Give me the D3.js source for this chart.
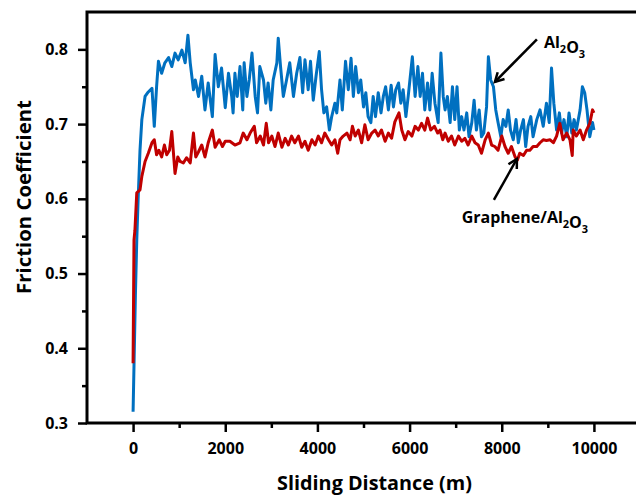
<!DOCTYPE html>
<html>
<head>
<meta charset="utf-8">
<script src="https://cdn.jsdelivr.net/npm/d3@7"></script>
<style>
  html, body { margin: 0; padding: 0; background: #fff; overflow: hidden; }
  svg { display: block; font-family: "Open Sans", "DejaVu Sans", sans-serif; font-weight: bold; }
</style>
</head>
<body>
<div id="chart"></div>
<script>
// CONSTANTS
const WIDTH = 636;
const HEIGHT = 496;

// data: sliding distance (m) and friction coefficient
const al2o3Dist = [0, 50, 80, 110, 150, 190, 260, 330, 410, 460, 510, 550, 620, 690, 770, 840, 910, 980, 1060, 1130,
  1190, 1240, 1310, 1350, 1420, 1490, 1560, 1630, 1720, 1780, 1850, 1920, 2000, 2070, 2140, 2170, 2210, 2260, 2320, 2380,
  2410, 2470, 2520, 2580, 2650, 2700, 2750, 2830, 2880, 2930, 2990, 3040, 3120, 3150, 3200, 3260, 3330, 3400, 3480, 3550,
  3620, 3680, 3730, 3800, 3850, 3910, 3970, 4040, 4090, 4140, 4200, 4260, 4310, 4380, 4420, 4490, 4540, 4610, 4670, 4730,
  4780, 4830, 4890, 4940, 5000, 5050, 5100, 5160, 5210, 5260, 5320, 5380, 5430, 5480, 5540, 5600, 5650, 5700, 5760, 5810,
  5860, 5920, 5970, 6060, 6120, 6180, 6230, 6280, 6330, 6390, 6440, 6490, 6550, 6620, 6680, 6730, 6770, 6820, 6880, 6930,
  6980, 7030, 7080, 7130, 7180, 7240, 7290, 7350, 7400, 7450, 7510, 7560, 7610, 7670, 7710, 7760, 7820, 7870, 7920, 7980,
  8030, 8090, 8140, 8190, 8250, 8310, 8360, 8410, 8470, 8520, 8570, 8630, 8680, 8760, 8830, 8900, 8970, 9030, 9080, 9130,
  9190, 9250, 9300, 9350, 9410, 9460, 9520, 9570, 9620, 9700, 9750, 9800, 9850, 9910, 9970, 10000];
const al2o3Cof = [0.315, 0.47, 0.545, 0.60, 0.665, 0.706, 0.737, 0.743, 0.748, 0.697, 0.75, 0.784, 0.768, 0.782, 0.789, 0.777, 0.795, 0.786, 0.799, 0.782,
  0.819, 0.782, 0.746, 0.759, 0.737, 0.764, 0.719, 0.755, 0.71, 0.793, 0.75, 0.775, 0.722, 0.768, 0.737, 0.715, 0.768, 0.737, 0.777, 0.719,
  0.782, 0.737, 0.759, 0.795, 0.737, 0.715, 0.777, 0.759, 0.728, 0.755, 0.719, 0.759, 0.782, 0.815, 0.777, 0.737, 0.759, 0.782, 0.737, 0.768,
  0.789, 0.742, 0.786, 0.746, 0.784, 0.732, 0.764, 0.797, 0.746, 0.715, 0.723, 0.692, 0.71, 0.728, 0.715, 0.759, 0.719, 0.784, 0.746, 0.788,
  0.737, 0.777, 0.742, 0.759, 0.723, 0.742, 0.71, 0.702, 0.737, 0.71, 0.742, 0.715, 0.737, 0.75, 0.719, 0.752, 0.723, 0.746, 0.755, 0.728,
  0.746, 0.71, 0.737, 0.79, 0.737, 0.777, 0.737, 0.768, 0.719, 0.755, 0.719, 0.768, 0.728, 0.702, 0.795, 0.737, 0.719, 0.737, 0.702, 0.75,
  0.706, 0.75, 0.692, 0.71, 0.692, 0.715, 0.683, 0.702, 0.732, 0.692, 0.719, 0.683, 0.688, 0.723, 0.79, 0.759, 0.75, 0.719, 0.702, 0.683,
  0.706, 0.697, 0.719, 0.692, 0.679, 0.706, 0.675, 0.692, 0.706, 0.67, 0.697, 0.71, 0.683, 0.706, 0.719, 0.697, 0.728, 0.702, 0.775, 0.728,
  0.692, 0.715, 0.688, 0.706, 0.683, 0.715, 0.688, 0.706, 0.692, 0.719, 0.75, 0.742, 0.719, 0.683, 0.702, 0.692];

const grapheneDist = [0, 20, 40, 80, 150, 190, 260, 330, 410, 460, 510, 560, 620, 680, 730, 790, 840, 910, 970, 1020,
  1090, 1160, 1240, 1310, 1360, 1420, 1490, 1560, 1630, 1720, 1780, 1870, 1940, 2000, 2100, 2210, 2320, 2390, 2470, 2540,
  2630, 2680, 2760, 2830, 2890, 2940, 3010, 3080, 3150, 3230, 3300, 3370, 3440, 3510, 3590, 3660, 3730, 3800, 3880, 3950,
  4020, 4090, 4160, 4240, 4310, 4380, 4440, 4490, 4560, 4640, 4710, 4760, 4820, 4890, 4960, 5030, 5100, 5180, 5250, 5320,
  5390, 5470, 5540, 5610, 5680, 5770, 5830, 5900, 5970, 6050, 6120, 6190, 6260, 6330, 6390, 6460, 6540, 6610, 6660, 6720,
  6770, 6840, 6910, 6980, 7060, 7130, 7200, 7270, 7350, 7420, 7490, 7560, 7640, 7710, 7780, 7850, 7920, 8000, 8070, 8140,
  8210, 8290, 8340, 8390, 8470, 8540, 8610, 8680, 8760, 8830, 8900, 8970, 9050, 9120, 9190, 9260, 9330, 9410, 9480, 9530,
  9550, 9620, 9700, 9770, 9840, 9910, 9970, 10000];
const grapheneCof = [0.38, 0.545, 0.558, 0.608, 0.612, 0.63, 0.65, 0.661, 0.675, 0.679, 0.659, 0.665, 0.656, 0.672, 0.659, 0.665, 0.69, 0.634, 0.656, 0.65,
  0.648, 0.655, 0.648, 0.688, 0.656, 0.663, 0.672, 0.656, 0.675, 0.692, 0.669, 0.679, 0.67, 0.677, 0.677, 0.672, 0.675, 0.688, 0.679, 0.688,
  0.697, 0.675, 0.684, 0.672, 0.701, 0.675, 0.684, 0.67, 0.688, 0.669, 0.681, 0.672, 0.684, 0.675, 0.684, 0.669, 0.677, 0.665, 0.679, 0.672,
  0.684, 0.675, 0.688, 0.679, 0.672, 0.679, 0.661, 0.679, 0.684, 0.688, 0.679, 0.697, 0.684, 0.692, 0.675, 0.699, 0.679, 0.688, 0.692, 0.684,
  0.692, 0.677, 0.688, 0.681, 0.703, 0.715, 0.692, 0.679, 0.69, 0.684, 0.697, 0.692, 0.701, 0.692, 0.708, 0.692, 0.697, 0.688, 0.692, 0.679,
  0.688, 0.677, 0.684, 0.672, 0.684, 0.677, 0.681, 0.672, 0.684, 0.675, 0.672, 0.661, 0.679, 0.688, 0.672, 0.67, 0.665, 0.684, 0.67, 0.661,
  0.67, 0.656, 0.652, 0.661, 0.658, 0.665, 0.665, 0.67, 0.67, 0.675, 0.679, 0.678, 0.679, 0.675, 0.684, 0.701, 0.679, 0.688, 0.679, 0.658,
  0.692, 0.684, 0.692, 0.679, 0.692, 0.701, 0.719, 0.715];

const xMajorTicks = [0, 2000, 4000, 6000, 8000, 10000];
const xMinorTicks = [1000, 3000, 5000, 7000, 9000];
const yMajorTicks = [0.3, 0.4, 0.5, 0.6, 0.7, 0.8];
const yMinorTicks = [0.35, 0.45, 0.55, 0.65, 0.75];

// annotation anchors in data units: label position, arrow tail, arrow tip
const annotations = [
  { name: "Al2O3", parts: [["Al", false], ["2", true], ["O", false], ["3", true]], lx: 8915, ly: 0.802, anchor: "start",
    tail: [8763, 0.8134], tip: [7852, 0.7565] },
  { name: "Graphene/Al2O3", parts: [["Graphene/Al", false], ["2", true], ["O", false], ["3", true]], lx: 8503, ly: 0.5677, anchor: "middle",
    tail: [7830, 0.5985], tip: [8329, 0.6534] }
];

const margin = { top: 12, left: 87, bottom: 423, right: 640 };

const svg = d3.select("#chart")
  .append("svg")
  .attr("width", WIDTH)
  .attr("height", HEIGHT);

const x = d3.scaleLinear().domain([-1000, 11000]).range([margin.left, margin.right]);
const y = d3.scaleLinear().domain([0.3, 0.85]).range([margin.bottom, margin.top]);

// ticks
const xAxis = svg.append("g")
  .attr("transform", `translate(0,${margin.bottom})`)
  .call(d3.axisBottom(x).tickValues(xMajorTicks).tickSize(9).tickPadding(11).tickFormat(d3.format("d")));
const xMinor = svg.append("g")
  .attr("transform", `translate(0,${margin.bottom})`)
  .call(d3.axisBottom(x).tickValues(xMinorTicks).tickSize(5).tickFormat(""));
const yAxis = svg.append("g")
  .attr("transform", `translate(${margin.left},0)`)
  .call(d3.axisLeft(y).tickValues(yMajorTicks).tickSize(9).tickPadding(10).tickFormat(d3.format(".1f")));
const yMinor = svg.append("g")
  .attr("transform", `translate(${margin.left},0)`)
  .call(d3.axisLeft(y).tickValues(yMinorTicks).tickSize(5).tickFormat(""));

[xAxis, xMinor, yAxis, yMinor].forEach(g => {
  g.select(".domain").remove();
  g.selectAll(".tick line").attr("stroke", "#000").attr("stroke-width", 2.5);
  g.selectAll("text")
    .attr("fill", "#000")
    .style("font-family", "'Open Sans', sans-serif")
    .style("font-weight", "bold")
    .style("font-size", "16px");
});

// frame
svg.append("rect")
  .attr("x", margin.left)
  .attr("y", margin.top)
  .attr("width", margin.right - margin.left)
  .attr("height", margin.bottom - margin.top)
  .attr("fill", "none")
  .attr("stroke", "#000")
  .attr("stroke-width", 3);

// lines
const line = d3.line().x(d => x(d[0])).y(d => y(d[1]));
const al2o3 = al2o3Dist.map((d, i) => [d, al2o3Cof[i]]);
const graphene = grapheneDist.map((d, i) => [d, grapheneCof[i]]);

svg.append("path")
  .datum(al2o3)
  .attr("d", line)
  .attr("fill", "none")
  .attr("stroke", "#0070C0")
  .attr("stroke-width", 3)
  .attr("stroke-linejoin", "round");

svg.append("path")
  .datum(graphene)
  .attr("d", line)
  .attr("fill", "none")
  .attr("stroke", "#C00000")
  .attr("stroke-width", 3)
  .attr("stroke-linejoin", "round");

// axis titles
const fitText = (sel, target) => {
  const w = sel.node().getComputedTextLength();
  const fs = parseFloat(sel.style("font-size"));
  sel.style("font-size", (fs * target / w) + "px");
};

const xTitle = svg.append("text")
  .attr("x", 374.5)
  .attr("y", 490)
  .attr("text-anchor", "middle")
  .style("font-size", "21px")
  .text("Sliding Distance (m)");
fitText(xTitle, 195);

const yTitle = svg.append("text")
  .attr("transform", "translate(31,197) rotate(-90)")
  .attr("text-anchor", "middle")
  .style("font-size", "21px")
  .text("Friction Coefficient");
fitText(yTitle, 194);

// annotations
annotations.forEach(a => {
  const t = svg.append("text")
    .attr("x", x(a.lx))
    .attr("y", y(a.ly))
    .attr("text-anchor", a.anchor)
    .style("font-size", "16px");
  a.parts.forEach(([s, sub]) => {
    t.append("tspan")
      .attr("dy", sub ? 5 : 0)
      .style("font-size", sub ? "11px" : "16px")
      .text(s);
    if (sub) t.append("tspan").attr("dy", -5).text("");
  });

  const x0 = x(a.tail[0]), y0 = y(a.tail[1]);
  const x1 = x(a.tip[0]), y1 = y(a.tip[1]);
  const ang = Math.atan2(y1 - y0, x1 - x0);
  const hl = 10, ha = 0.5;
  svg.append("line")
    .attr("x1", x0).attr("y1", y0).attr("x2", x1).attr("y2", y1)
    .attr("stroke", "#000").attr("stroke-width", 2.5);
  svg.append("path")
    .attr("d", `M${x1 - hl * Math.cos(ang - ha)},${y1 - hl * Math.sin(ang - ha)}L${x1},${y1}L${x1 - hl * Math.cos(ang + ha)},${y1 - hl * Math.sin(ang + ha)}`)
    .attr("fill", "none")
    .attr("stroke", "#000")
    .attr("stroke-width", 2.5);
});
</script>
</body>
</html>
